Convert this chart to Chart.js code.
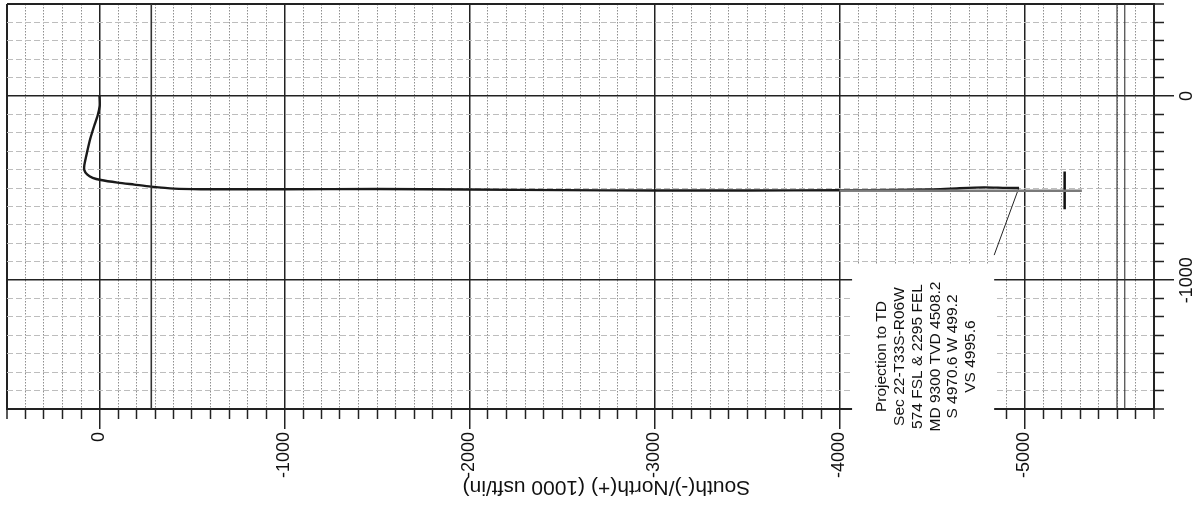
<!DOCTYPE html>
<html><head><meta charset="utf-8">
<script src="https://cdn.jsdelivr.net/npm/chart.js@4.4.1/dist/chart.umd.min.js"></script>
<style>html,body{margin:0;padding:0;background:#fff;}canvas{display:block;}</style>
</head><body>
<canvas id="c" width="1204" height="507"></canvas>
<script>
// ---- data (South(-)/North(+) on x, West(-)/East(+) on y, usft) ----
const wellNS = [0, -1, 10, 28, 50, 67, 82, 82, 67, 37, -8, -98, -188, -278, -403, -547, -1000, -1500, -2000, -2500, -3000, -3500, -4000, -4300, -4500, -4600, -4780, -4900, -4970.6];
const wellEW = [0, -53, -106, -160, -232, -304, -375, -402, -426, -444, -456, -470, -481, -492, -503, -506, -506, -505, -508, -511, -513, -513, -512, -510, -507, -503, -496, -499, -499.2];
const planNS = [-4000, -4500, -5310];
const planEW = [-513, -514, -514];
const targetNS = [-5217, -5217];
const targetEW = [-410, -615];
const leaderNS = [-4968, -4836];
const leaderEW = [-503, -864];
const sectionLinesNS = [-280, -5500, -5542];
const nsRange = [-5700, 500];
const ewRange = [-1700, 500];
const gridStep = 100;
const majorStep = 1000;
const axisTitle = 'South(-)/North(+) (1000 usft/in)';
const titleAnchorNS = -2740;
const noteLines = ['Projection to TD', 'Sec 22-T33S-R06W', '574 FSL & 2295 FEL', 'MD 9300 TVD 4508.2', 'S 4970.6 W 499.2', 'VS 4995.6'];
const noteAnchorNS = -4470;
const noteAnchorEW = -1415;
const noteBoxNS = [-4068, -4836];
const noteBoxTopEW = -915;

const FONT = '"Liberation Sans", Arial, sans-serif';
const pts = (xs, ys) => xs.map((v, i) => ({x: v, y: ys[i]}));
const isMajor = v => Math.round(v) % majorStep === 0;

const sectionSets = sectionLinesNS.map((ns, i) => ({
  data: pts([ns, ns], [ewRange[1], ewRange[0]]),
  borderColor: '#333', borderWidth: i === 0 ? 1.6 : 1.1, pointRadius: 0, showLine: true
}));

function gridFor(range, dashMinor, minorColor) {
  const edge = v => Math.round(v) === range[0] || Math.round(v) === range[1];
  return {
    grid: {
      color: c => (c.tick && (isMajor(c.tick.value) || edge(c.tick.value))) ? '#222' : minorColor,
      lineWidth: c => c.tick ? (edge(c.tick.value) ? 2 : isMajor(c.tick.value) ? 1.5 : 1) : 1,
      tickLength: 20,
      tickColor: '#222',
      tickWidth: 1.5,
      tickBorderDash: c => (c.tick && isMajor(c.tick.value)) ? [] : [9, 60]
    },
    border: {
      display: true, color: '#222', width: 2,
      dash: c => (c.tick && !isMajor(c.tick.value) && !edge(c.tick.value)) ? dashMinor : []
    }
  };
}

const labelCb = v => isMajor(v) ? String(Math.round(v)) : '';

const rotText = {
  id: 'rotText',
  afterDatasetsDraw(chart) {
    const {ctx} = chart;
    const x = chart.scales.x, y = chart.scales.y;
    // white label box over the grid
    const bx1 = x.getPixelForValue(noteBoxNS[0]);
    const bx2 = x.getPixelForValue(noteBoxNS[1]);
    const by1 = y.getPixelForValue(noteBoxTopEW);
    const by2 = x.top + 16;
    ctx.save();
    ctx.fillStyle = '#fff';
    ctx.fillRect(bx1, by1, bx2 - bx1, by2 - by1);
    ctx.restore();

    ctx.save();
    ctx.fillStyle = '#111';
    ctx.font = '15.5px ' + FONT;
    ctx.textAlign = 'center';
    ctx.textBaseline = 'middle';
    ctx.translate(x.getPixelForValue(noteAnchorNS), y.getPixelForValue(noteAnchorEW));
    ctx.rotate(-Math.PI / 2);
    const n = noteLines.length, lh = 17.7;
    noteLines.forEach((t, i) => ctx.fillText(t, 0, (i - (n - 1) / 2) * lh));
    ctx.restore();

    ctx.save();
    ctx.fillStyle = '#111';
    ctx.font = '21px ' + FONT;
    ctx.textAlign = 'center';
    ctx.textBaseline = 'middle';
    ctx.translate(x.getPixelForValue(titleAnchorNS), x.bottom - 20);
    ctx.rotate(Math.PI);
    ctx.fillText(axisTitle, 0, 0);
    ctx.restore();
  }
};

new Chart(document.getElementById('c'), {
  type: 'scatter',
  data: {
    datasets: [
      ...sectionSets,
      {data: pts(planNS, planEW), borderColor: '#7a7a7a', borderWidth: 2.5, pointRadius: 0, showLine: true},
      {data: pts(wellNS, wellEW), borderColor: '#1a1a1a', borderWidth: 2.4, pointRadius: 0, showLine: true, tension: 0.25},
      {data: pts(targetNS, targetEW), borderColor: '#111', borderWidth: 2.5, pointRadius: 0, showLine: true},
      {data: pts(leaderNS, leaderEW), borderColor: '#222', borderWidth: 1, pointRadius: 0, showLine: true}
    ]
  },
  options: {
    responsive: false, animation: false, devicePixelRatio: 1,
    layout: {padding: {left: 7, top: 4, right: 0, bottom: 0}},
    plugins: {legend: {display: false}, tooltip: {enabled: false}, title: {display: false}},
    scales: {
      x: {
        type: 'linear', reverse: true, min: nsRange[0], max: nsRange[1],
        position: 'bottom',
        ...gridFor(nsRange, [1.5, 1.5], '#8f8f8f'),
        ticks: {
          stepSize: gridStep, autoSkip: false, minRotation: 90, maxRotation: 90,
          padding: 3, color: '#111', font: {family: FONT, size: 18}, callback: labelCb
        },
        afterFit: s => { s.height = 98; s.paddingLeft = 0; s.paddingRight = 0; }
      },
      y: {
        type: 'linear', min: ewRange[0], max: ewRange[1], position: 'right',
        ...gridFor(ewRange, [6, 3], '#bdbdbd'),
        ticks: {
          stepSize: gridStep, autoSkip: false, minRotation: 90, maxRotation: 90,
          crossAlign: 'center', padding: -10, color: '#111', font: {family: FONT, size: 18}, callback: labelCb
        },
        afterFit: s => { s.width = 50; s.paddingTop = 0; s.paddingBottom = 0; }
      }
    }
  },
  plugins: [rotText]
});
</script>
</body></html>
